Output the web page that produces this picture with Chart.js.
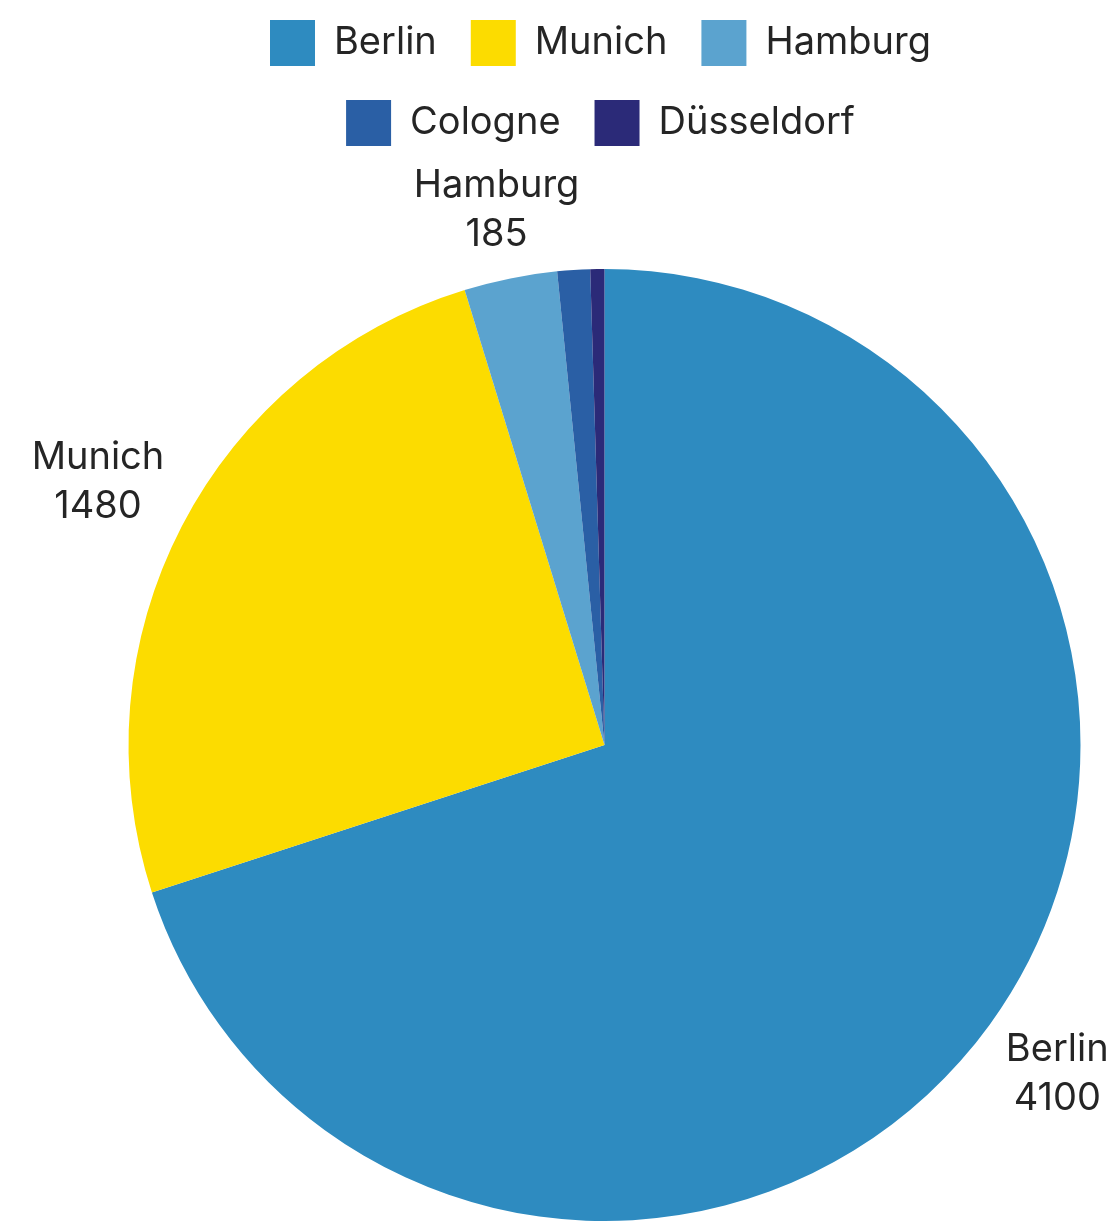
<!DOCTYPE html>
<html>
<head>
<meta charset="utf-8">
<script src="https://cdn.jsdelivr.net/npm/chart.js@4.4.1/dist/chart.umd.min.js"></script>
<style>
  html, body { margin: 0; padding: 0; background: #fff; }
  #wrap { width: 1119px; height: 1221px; position: relative; }
</style>
</head>
<body>
<div id="wrap"><canvas id="pie"></canvas></div>
<script>
const cities = ["Berlin", "Munich", "Hamburg", "Cologne", "Düsseldorf"];
const counts = [4100, 1480, 185, 65, 28];
const colors = ["#2e8bc0", "#fcdc00", "#5ba3cf", "#2a5fa5", "#2b2a78"];
const labelled = ["Berlin", "Munich", "Hamburg"];

const FONT = "Inter, 'Noto Sans', sans-serif";
const TEXT = "#252525";
const LEGEND_W = 800;

// narrow legend rows (3 + 2) and extra room under it for the outside labels
const legendLayout = {
  id: "legendLayout",
  beforeInit(chart) {
    const fit = chart.legend.fit;
    chart.legend.fit = function () {
      const mw = this.maxWidth;
      this.maxWidth = Math.min(mw, LEGEND_W);
      fit.bind(chart.legend)();
      this.maxWidth = mw;
      this.height += 113;
    };
  },
  afterLayout(chart) {
    const lg = chart.legend;
    const c = (chart.chartArea.left + chart.chartArea.right) / 2 - 4;
    lg.left = c - LEGEND_W / 2;
    lg.right = c + LEGEND_W / 2;
    lg.width = LEGEND_W;
  }
};

// name + value outside the slices, skipping the tiny ones
const outsideLabels = {
  id: "outsideLabels",
  afterDatasetsDraw(chart) {
    const ctx = chart.ctx;
    const meta = chart.getDatasetMeta(0);
    ctx.save();
    ctx.font = "38px " + FONT;
    ctx.fillStyle = TEXT;
    ctx.textAlign = "center";
    ctx.textBaseline = "middle";
    meta.data.forEach((arc, i) => {
      if (!labelled.includes(cities[i])) return;
      const p = arc.getProps(["x", "y", "startAngle", "endAngle", "outerRadius"], true);
      const mid = (p.startAngle + p.endAngle) / 2;
      const dx = Math.cos(mid), dy = Math.sin(mid);
      const lines = [cities[i], String(counts[i])];
      const lh = 49;
      const w = Math.max(...lines.map(t => ctx.measureText(t).width));
      const hw = w / 2, hh = lh * lines.length / 2;
      const ext = Math.min(Math.abs(dx) > 1e-6 ? hw / Math.abs(dx) : Infinity,
                           Math.abs(dy) > 1e-6 ? hh / Math.abs(dy) : Infinity);
      const d = p.outerRadius + 20 + ext;
      const cx = p.x + dx * d, cy = p.y + dy * d;
      lines.forEach((t, k) => {
        ctx.fillText(t, cx, cy - hh + lh / 2 + k * lh);
      });
    });
    ctx.restore();
  }
};

new Chart(document.getElementById("pie"), {
  type: "pie",
  data: {
    labels: cities,
    datasets: [{
      data: counts,
      backgroundColor: colors,
      borderWidth: 0,
      hoverOffset: 0
    }]
  },
  options: {
    responsive: true,
    maintainAspectRatio: false,
    animation: false,
    layout: { padding: { top: -14, left: 90, right: 0, bottom: -3 } },
    plugins: {
      legend: {
        position: "top",
        labels: {
          boxWidth: 45,
          boxHeight: 46,
          padding: 34,
          color: TEXT,
          font: { family: FONT, size: 38 }
        }
      },
      tooltip: { enabled: false }
    }
  },
  plugins: [legendLayout, outsideLabels]
});
</script>
</body>
</html>
